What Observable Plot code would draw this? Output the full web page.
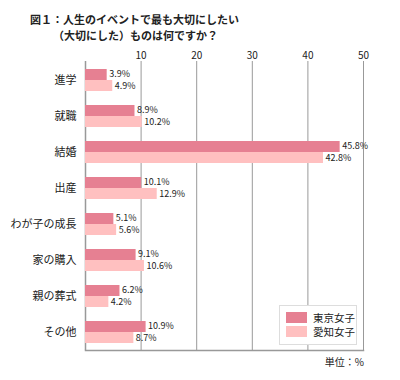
<!DOCTYPE html>
<html><head><meta charset="utf-8">
<script src="https://cdn.jsdelivr.net/npm/d3@7"></script>
<script src="https://cdn.jsdelivr.net/npm/@observablehq/plot@0.6"></script>
<style>
body{margin:0;background:#fff;font-family:"Noto Sans CJK JP",sans-serif;}
#wrap{position:relative;width:400px;height:380px;}
.t{position:absolute;font-size:11px;font-weight:bold;color:#222;white-space:nowrap;}
#legend{position:absolute;left:279px;top:305px;width:76px;height:38px;border:1px solid #ddd;background:#fff;font-size:10.5px;color:#222;}
.li{position:absolute;left:6px;height:11px;display:flex;align-items:center;}
.sw{width:21px;height:11px;margin-right:6px;}
#unit{position:absolute;right:36px;top:354px;font-size:10px;color:#222;}
</style></head>
<body><div id="wrap">
<div id="chart"></div>
<div class="t" style="left:30px;top:11px">図１：人生のイベントで最も大切にしたい</div>
<div class="t" style="left:53px;top:27px">（大切にした）ものは何ですか？</div>
<div id="legend"></div>
<div id="unit">単位：%</div>
</div>
<script>
const categories = ["進学","就職","結婚","出産","わが子の成長","家の購入","親の葬式","その他"];
const tokyo = [3.9, 8.9, 45.8, 10.1, 5.1, 9.1, 6.2, 10.9];
const aichi = [4.9, 10.2, 42.8, 12.9, 5.6, 10.6, 4.2, 8.7];
const series = ["東京女子","愛知女子"];
const colors = ["#e68092","#ffc0c0"];
const xTicks = [10,20,30,40,50];

const data = categories.map((c,i)=>({cat:c, tokyo:tokyo[i], aichi:aichi[i]}));

const plot = Plot.plot({
  width:400, height:380,
  marginLeft:85, marginRight:37, marginTop:61, marginBottom:30,
  style:{fontFamily:"Noto Sans CJK JP, sans-serif", color:"#222", background:"transparent"},
  x:{domain:[0,50], axis:"top", ticks:xTicks, tickSize:0, tickPadding:3, label:null, tickFormat:d=>String(d)},
  y:{type:"band", domain:categories, padding:0, tickSize:0, tickPadding:9, label:null},
  marks:[
    Plot.ruleX(xTicks,{stroke:"#999", strokeWidth:1}),
    Plot.ruleX([0],{stroke:"#999", strokeWidth:1.5}),
    Plot.frame({anchor:"bottom", stroke:"#999", strokeWidth:1.5}),
    Plot.barX(data,{x:"tokyo", y:"cat", fill:colors[0], insetTop:7, insetBottom:18}),
    Plot.barX(data,{x:"aichi", y:"cat", fill:colors[1], insetTop:18, insetBottom:7}),
    Plot.text(data,{x:"tokyo", y:"cat", text:d=>d.tokyo.toFixed(1)+"%", dy:-6, dx:2, textAnchor:"start", fontSize:9, fill:"#222"}),
    Plot.text(data,{x:"aichi", y:"cat", text:d=>d.aichi.toFixed(1)+"%", dy:6, dx:2, textAnchor:"start", fontSize:9, fill:"#222"})
  ]
});
plot.style.position="absolute"; plot.style.left="0"; plot.style.top="0";
plot.querySelectorAll('[aria-label="y-axis tick label"]').forEach(e=>e.setAttribute("font-size","11"));
document.getElementById("chart").appendChild(plot);

const lg = document.getElementById("legend");
series.forEach((s,i)=>{
  const d=document.createElement("div"); d.className="li"; d.style.top=(6+i*14)+"px";
  d.innerHTML=`<div class="sw" style="background:${colors[i]}"></div><span>${s}</span>`;
  lg.appendChild(d);
});
</script>
</body></html>
